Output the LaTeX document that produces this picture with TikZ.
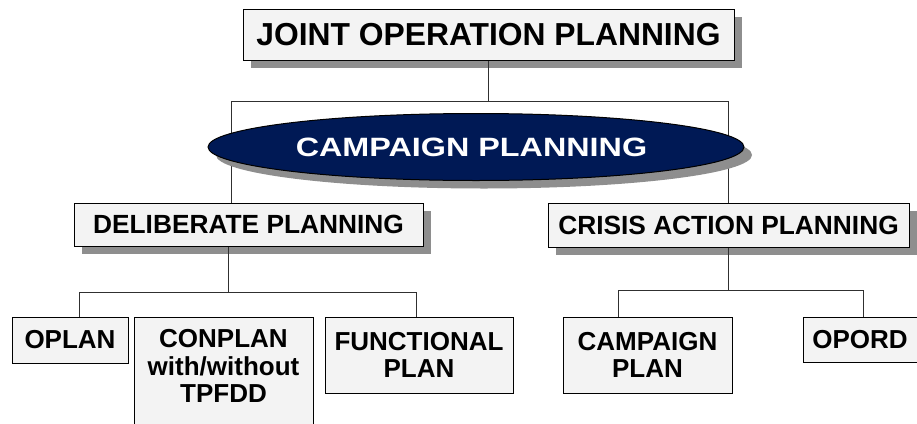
\documentclass[tikz,border=0pt]{standalone}
\usepackage{fontspec}
\setmainfont{Liberation Sans}
\usetikzlibrary{shapes.geometric,shadows}
\definecolor{boxfill}{HTML}{F3F3F3}
\definecolor{shadowgray}{HTML}{8E8E8E}
\definecolor{navy}{HTML}{001955}
\definecolor{linegray}{HTML}{303030}
\begin{document}
\begin{tikzpicture}[x=1pt,y=-1pt,
  plainbox/.style={draw=black,line width=1pt,fill=boxfill,inner sep=0pt,
    align=center,font=\bfseries\fontsize{26}{27.5}\selectfont},
  shadowbox/.style={plainbox,drop shadow={shadow xshift=8pt,shadow yshift=-8pt,fill=shadowgray,opacity=1}},
  conn/.style={draw=linegray,line width=1pt}]
\useasboundingbox (0,0) rectangle (917,423);
\clip (0,0) rectangle (917,423);

% top box
\node[shadowbox,minimum width=491pt,minimum height=51pt,font=\bfseries\fontsize{31.8}{33}\selectfont]
  (jop) at (488.5,34.5) {JOINT OPERATION PLANNING};

% second level boxes
\node[shadowbox,minimum width=349pt,minimum height=43pt,font=\bfseries\fontsize{26.3}{28}\selectfont]
  (delib) at (248.5,224.5) {DELIBERATE PLANNING};
\node[shadowbox,minimum width=361pt,minimum height=44pt,font=\bfseries\fontsize{26.3}{28}\selectfont]
  (crisis) at (728.5,225) {CRISIS ACTION PLANNING};

% connectors top
\coordinate (h1) at (231,101);
\coordinate (h2) at (728,101);
\draw[conn] (jop.south) -- (jop.south |- h1);
\draw[conn] (h1 |- delib.north) -- (h1) -- (h2) -- (h2 |- crisis.north);

% ellipse
\node[ellipse,draw=black,line width=1pt,fill=navy,minimum width=536pt,minimum height=67pt,inner sep=0pt,
  drop shadow={shadow xshift=8pt,shadow yshift=-8pt,fill=shadowgray,opacity=1},
  text=white,font=\bfseries\fontsize{26.5}{28}\selectfont]
  (camp) at (476,147) {\kern-9pt\scalebox{1.22}[1]{CAMPAIGN PLANNING}};

% bottom boxes
\node[plainbox,minimum width=116pt,minimum height=46pt] (oplan) at (70,340) {OPLAN};
\node[plainbox,minimum width=179pt,minimum height=120pt] (conplan) at (223.5,377) {};
\node[align=center,inner sep=0pt,font=\bfseries\fontsize{26}{27.5}\selectfont] (conplantext) at (223.5,366)
  {CONPLAN\\with/without\\TPFDD};
\node[plainbox,minimum width=188pt,minimum height=76pt] (func) at (419,355) {FUNCTIONAL\\PLAN};
\node[plainbox,minimum width=169pt,minimum height=76pt] (cplan) at (647.5,355) {CAMPAIGN\\PLAN};
\node[plainbox,minimum width=114pt,minimum height=45pt] (opord) at (860,339.5) {OPORD};

% lower connectors left
\coordinate (l1) at (79,292);
\coordinate (l2) at (416,292);
\draw[conn] (delib.south -| 228,0) -- (228,292);
\draw[conn] (l1 |- oplan.north) -- (l1) -- (l2) -- (l2 |- func.north);

% lower connectors right
\coordinate (r1) at (618,290);
\coordinate (r2) at (863,290);
\draw[conn] (crisis.south -| 728,0) -- (728,290);
\draw[conn] (r1 |- cplan.north) -- (r1) -- (r2) -- (r2 |- opord.north);
\end{tikzpicture}
\end{document}
